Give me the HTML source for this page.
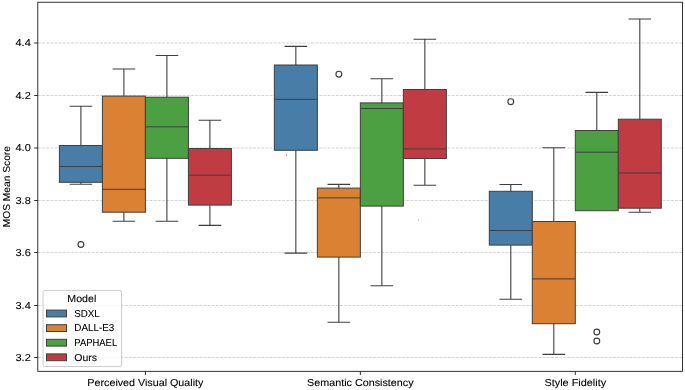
<!DOCTYPE html>
<html><head><meta charset="utf-8"><title>MOS boxplot</title>
<style>html,body{margin:0;padding:0;background:#fff;overflow:hidden}body{width:685px;height:390px;font-family:"Liberation Sans",sans-serif}</style></head>
<body>
<svg width="685" height="390" viewBox="0 0 685 390" style="display:block;will-change:transform;text-rendering:geometricPrecision">
<rect width="685" height="390" fill="#fff"/>
<line x1="38.0" x2="682.5" y1="43.00" y2="43.00" stroke="#b0b0b0" stroke-opacity="0.68" stroke-width="0.8" stroke-dasharray="2.887 1.25"/>
<line x1="38.0" x2="682.5" y1="95.50" y2="95.50" stroke="#b0b0b0" stroke-opacity="0.68" stroke-width="0.8" stroke-dasharray="2.887 1.25"/>
<line x1="38.0" x2="682.5" y1="148.00" y2="148.00" stroke="#b0b0b0" stroke-opacity="0.68" stroke-width="0.8" stroke-dasharray="2.887 1.25"/>
<line x1="38.0" x2="682.5" y1="200.50" y2="200.50" stroke="#b0b0b0" stroke-opacity="0.68" stroke-width="0.8" stroke-dasharray="2.887 1.25"/>
<line x1="38.0" x2="682.5" y1="252.50" y2="252.50" stroke="#b0b0b0" stroke-opacity="0.68" stroke-width="0.8" stroke-dasharray="2.887 1.25"/>
<line x1="38.0" x2="682.5" y1="305.50" y2="305.50" stroke="#b0b0b0" stroke-opacity="0.68" stroke-width="0.8" stroke-dasharray="2.887 1.25"/>
<line x1="38.0" x2="682.5" y1="357.50" y2="357.50" stroke="#b0b0b0" stroke-opacity="0.68" stroke-width="0.8" stroke-dasharray="2.887 1.25"/>
<path d="M80.90 145.5 V106.3 M70.15 106.3 H91.65 M80.90 182.3 V184.3 M70.15 184.3 H91.65" stroke="#3f3f3f" stroke-width="1.1" fill="none" stroke-linecap="square"/>
<rect x="59.40" y="145.5" width="43.0" height="36.80" fill="#477da6" stroke="#3f3f3f" stroke-width="1.0"/>
<line x1="59.40" x2="102.40" y1="166.5" y2="166.5" stroke="#3f3f3f" stroke-width="1.0"/>
<circle cx="80.90" cy="244.5" r="2.9" fill="none" stroke="#3f3f3f" stroke-width="1.15"/>
<path d="M123.90 96.1 V69.0 M113.15 69.0 H134.65 M123.90 212.2 V221.2 M113.15 221.2 H134.65" stroke="#3f3f3f" stroke-width="1.1" fill="none" stroke-linecap="square"/>
<rect x="102.40" y="96.1" width="43.0" height="116.10" fill="#db8134" stroke="#3f3f3f" stroke-width="1.0"/>
<line x1="102.40" x2="145.40" y1="189.3" y2="189.3" stroke="#3f3f3f" stroke-width="1.0"/>
<path d="M166.90 97.2 V55.5 M156.15 55.5 H177.65 M166.90 158.3 V221.2 M156.15 221.2 H177.65" stroke="#3f3f3f" stroke-width="1.1" fill="none" stroke-linecap="square"/>
<rect x="145.40" y="97.2" width="43.0" height="61.10" fill="#4ca042" stroke="#3f3f3f" stroke-width="1.0"/>
<line x1="145.40" x2="188.40" y1="126.8" y2="126.8" stroke="#3f3f3f" stroke-width="1.0"/>
<path d="M209.90 148.5 V120.3 M199.15 120.3 H220.65 M209.90 205.1 V225.4 M199.15 225.4 H220.65" stroke="#3f3f3f" stroke-width="1.1" fill="none" stroke-linecap="square"/>
<rect x="188.40" y="148.5" width="43.0" height="56.60" fill="#c13c42" stroke="#3f3f3f" stroke-width="1.0"/>
<line x1="188.40" x2="231.40" y1="175.2" y2="175.2" stroke="#3f3f3f" stroke-width="1.0"/>
<path d="M295.85 65.0 V46.4 M285.10 46.4 H306.60 M295.85 150.3 V253.1 M285.10 253.1 H306.60" stroke="#3f3f3f" stroke-width="1.1" fill="none" stroke-linecap="square"/>
<rect x="274.35" y="65.0" width="43.0" height="85.30" fill="#477da6" stroke="#3f3f3f" stroke-width="1.0"/>
<line x1="274.35" x2="317.35" y1="99.35" y2="99.35" stroke="#3f3f3f" stroke-width="1.0"/>
<path d="M338.85 188.1 V184.4 M328.10 184.4 H349.60 M338.85 257.1 V322.2 M328.10 322.2 H349.60" stroke="#3f3f3f" stroke-width="1.1" fill="none" stroke-linecap="square"/>
<rect x="317.35" y="188.1" width="43.0" height="69.00" fill="#db8134" stroke="#3f3f3f" stroke-width="1.0"/>
<line x1="317.35" x2="360.35" y1="197.9" y2="197.9" stroke="#3f3f3f" stroke-width="1.0"/>
<circle cx="338.85" cy="74.2" r="2.9" fill="none" stroke="#3f3f3f" stroke-width="1.15"/>
<path d="M381.85 102.9 V78.8 M371.10 78.8 H392.60 M381.85 206.1 V285.8 M371.10 285.8 H392.60" stroke="#3f3f3f" stroke-width="1.1" fill="none" stroke-linecap="square"/>
<rect x="360.35" y="102.9" width="43.0" height="103.20" fill="#4ca042" stroke="#3f3f3f" stroke-width="1.0"/>
<line x1="360.35" x2="403.35" y1="108.5" y2="108.5" stroke="#3f3f3f" stroke-width="1.0"/>
<path d="M424.85 89.5 V39.3 M414.10 39.3 H435.60 M424.85 158.5 V185.3 M414.10 185.3 H435.60" stroke="#3f3f3f" stroke-width="1.1" fill="none" stroke-linecap="square"/>
<rect x="403.35" y="89.5" width="43.0" height="69.00" fill="#c13c42" stroke="#3f3f3f" stroke-width="1.0"/>
<line x1="403.35" x2="446.35" y1="148.9" y2="148.9" stroke="#3f3f3f" stroke-width="1.0"/>
<path d="M510.80 191.3 V184.5 M500.05 184.5 H521.55 M510.80 245.1 V299.2 M500.05 299.2 H521.55" stroke="#3f3f3f" stroke-width="1.1" fill="none" stroke-linecap="square"/>
<rect x="489.30" y="191.3" width="43.0" height="53.80" fill="#477da6" stroke="#3f3f3f" stroke-width="1.0"/>
<line x1="489.30" x2="532.30" y1="230.5" y2="230.5" stroke="#3f3f3f" stroke-width="1.0"/>
<circle cx="510.80" cy="101.7" r="2.9" fill="none" stroke="#3f3f3f" stroke-width="1.15"/>
<path d="M553.80 221.5 V147.7 M543.05 147.7 H564.55 M553.80 323.7 V354.4 M543.05 354.4 H564.55" stroke="#3f3f3f" stroke-width="1.1" fill="none" stroke-linecap="square"/>
<rect x="532.30" y="221.5" width="43.0" height="102.20" fill="#db8134" stroke="#3f3f3f" stroke-width="1.0"/>
<line x1="532.30" x2="575.30" y1="278.9" y2="278.9" stroke="#3f3f3f" stroke-width="1.0"/>
<path d="M596.80 130.5 V92.4 M586.05 92.4 H607.55" stroke="#3f3f3f" stroke-width="1.1" fill="none" stroke-linecap="square"/>
<rect x="575.30" y="130.5" width="43.0" height="80.20" fill="#4ca042" stroke="#3f3f3f" stroke-width="1.0"/>
<line x1="575.30" x2="618.30" y1="152.2" y2="152.2" stroke="#3f3f3f" stroke-width="1.0"/>
<circle cx="596.80" cy="331.95" r="2.9" fill="none" stroke="#3f3f3f" stroke-width="1.15"/>
<circle cx="596.80" cy="341.0" r="2.9" fill="none" stroke="#3f3f3f" stroke-width="1.15"/>
<path d="M639.80 119.2 V19.0 M629.05 19.0 H650.55 M639.80 208.2 V212.2 M629.05 212.2 H650.55" stroke="#3f3f3f" stroke-width="1.1" fill="none" stroke-linecap="square"/>
<rect x="618.30" y="119.2" width="43.0" height="89.00" fill="#c13c42" stroke="#3f3f3f" stroke-width="1.0"/>
<line x1="618.30" x2="661.30" y1="173.0" y2="173.0" stroke="#3f3f3f" stroke-width="1.0"/>
<ellipse cx="286.4" cy="155.0" rx="0.6" ry="0.95" fill="#ee5a5a" fill-opacity="0.8"/>
<ellipse cx="418.3" cy="219.9" rx="0.6" ry="0.9" fill="#ee5a5a" fill-opacity="0.6"/>
<rect x="37.8" y="2.2" width="644.7" height="369.1" fill="none" stroke="#000" stroke-width="0.8"/>
<line x1="34.099999999999994" x2="37.8" y1="43.00" y2="43.00" stroke="#000" stroke-width="0.8"/>
<text x="30.80" y="46.40" text-anchor="end" font-family="Liberation Sans, sans-serif" stroke="#000" stroke-width="0.1" font-size="10.1" textLength="15.32" lengthAdjust="spacingAndGlyphs" fill="#000">4.4</text>
<line x1="34.099999999999994" x2="37.8" y1="95.50" y2="95.50" stroke="#000" stroke-width="0.8"/>
<text x="30.80" y="98.90" text-anchor="end" font-family="Liberation Sans, sans-serif" stroke="#000" stroke-width="0.1" font-size="10.1" textLength="15.32" lengthAdjust="spacingAndGlyphs" fill="#000">4.2</text>
<line x1="34.099999999999994" x2="37.8" y1="148.00" y2="148.00" stroke="#000" stroke-width="0.8"/>
<text x="30.80" y="151.40" text-anchor="end" font-family="Liberation Sans, sans-serif" stroke="#000" stroke-width="0.1" font-size="10.1" textLength="15.32" lengthAdjust="spacingAndGlyphs" fill="#000">4.0</text>
<line x1="34.099999999999994" x2="37.8" y1="200.50" y2="200.50" stroke="#000" stroke-width="0.8"/>
<text x="30.80" y="203.90" text-anchor="end" font-family="Liberation Sans, sans-serif" stroke="#000" stroke-width="0.1" font-size="10.1" textLength="15.32" lengthAdjust="spacingAndGlyphs" fill="#000">3.8</text>
<line x1="34.099999999999994" x2="37.8" y1="252.50" y2="252.50" stroke="#000" stroke-width="0.8"/>
<text x="30.80" y="255.90" text-anchor="end" font-family="Liberation Sans, sans-serif" stroke="#000" stroke-width="0.1" font-size="10.1" textLength="15.32" lengthAdjust="spacingAndGlyphs" fill="#000">3.6</text>
<line x1="34.099999999999994" x2="37.8" y1="305.50" y2="305.50" stroke="#000" stroke-width="0.8"/>
<text x="30.80" y="308.90" text-anchor="end" font-family="Liberation Sans, sans-serif" stroke="#000" stroke-width="0.1" font-size="10.1" textLength="15.32" lengthAdjust="spacingAndGlyphs" fill="#000">3.4</text>
<line x1="34.099999999999994" x2="37.8" y1="357.50" y2="357.50" stroke="#000" stroke-width="0.8"/>
<text x="30.80" y="360.90" text-anchor="end" font-family="Liberation Sans, sans-serif" stroke="#000" stroke-width="0.1" font-size="10.1" textLength="15.32" lengthAdjust="spacingAndGlyphs" fill="#000">3.2</text>
<line x1="145.4" x2="145.4" y1="371.3" y2="375.0" stroke="#000" stroke-width="0.8"/>
<text x="145.4" y="386.1" text-anchor="middle" font-family="Liberation Sans, sans-serif" stroke="#000" stroke-width="0.1" font-size="10.1" textLength="116.05" lengthAdjust="spacingAndGlyphs" fill="#000">Perceived Visual Quality</text>
<line x1="360.35" x2="360.35" y1="371.3" y2="375.0" stroke="#000" stroke-width="0.8"/>
<text x="360.35" y="386.1" text-anchor="middle" font-family="Liberation Sans, sans-serif" stroke="#000" stroke-width="0.1" font-size="10.1" textLength="106.46" lengthAdjust="spacingAndGlyphs" fill="#000">Semantic Consistency</text>
<line x1="575.3" x2="575.3" y1="371.3" y2="375.0" stroke="#000" stroke-width="0.8"/>
<text x="575.3" y="386.1" text-anchor="middle" font-family="Liberation Sans, sans-serif" stroke="#000" stroke-width="0.1" font-size="10.1" textLength="61.63" lengthAdjust="spacingAndGlyphs" fill="#000">Style Fidelity</text>
<text transform="translate(10.2 186.7) rotate(-90)" text-anchor="middle" font-family="Liberation Sans, sans-serif" stroke="#000" stroke-width="0.1" font-size="10.1" textLength="81.33" lengthAdjust="spacingAndGlyphs" fill="#000">MOS Mean Score</text>
<rect x="43.05" y="290.4" width="78.55" height="76.10000000000002" rx="1.9" ry="1.9" fill="#fff" fill-opacity="0.8" stroke="#ccc" stroke-opacity="1" stroke-width="1"/>
<text x="81.8" y="302.05" text-anchor="middle" font-family="Liberation Sans, sans-serif" stroke="#000" stroke-width="0.1" font-size="10.1" textLength="28.91" lengthAdjust="spacingAndGlyphs" fill="#000">Model</text>
<rect x="46.5" y="310.10" width="20" height="6.8" fill="#477da6" stroke="#3f3f3f" stroke-width="1.0"/>
<text x="74.3" y="316.75" font-family="Liberation Sans, sans-serif" stroke="#000" stroke-width="0.1" font-size="10.1" textLength="25.49" lengthAdjust="spacingAndGlyphs" fill="#000">SDXL</text>
<rect x="46.5" y="324.70" width="20" height="6.8" fill="#db8134" stroke="#3f3f3f" stroke-width="1.0"/>
<text x="74.3" y="331.35" font-family="Liberation Sans, sans-serif" stroke="#000" stroke-width="0.1" font-size="10.1" textLength="40.08" lengthAdjust="spacingAndGlyphs" fill="#000">DALL-E3</text>
<rect x="46.5" y="339.30" width="20" height="6.8" fill="#4ca042" stroke="#3f3f3f" stroke-width="1.0"/>
<text x="74.3" y="345.95" font-family="Liberation Sans, sans-serif" stroke="#000" stroke-width="0.1" font-size="10.1" textLength="42.86" lengthAdjust="spacingAndGlyphs" fill="#000">PAPHAEL</text>
<rect x="46.5" y="353.90" width="20" height="6.8" fill="#c13c42" stroke="#3f3f3f" stroke-width="1.0"/>
<text x="74.3" y="360.55" font-family="Liberation Sans, sans-serif" stroke="#000" stroke-width="0.1" font-size="10.1" textLength="22.66" lengthAdjust="spacingAndGlyphs" fill="#000">Ours</text>
</svg>
</body></html>
